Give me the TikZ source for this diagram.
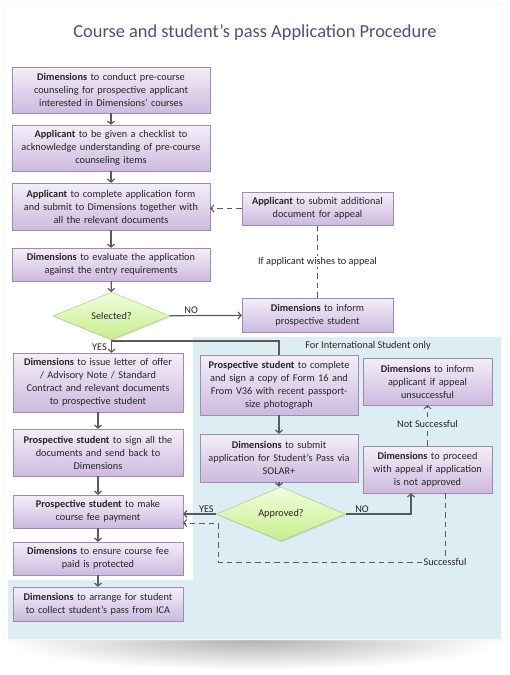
\documentclass[tikz,border=0pt]{standalone}
\usepackage{fontspec}
\setmainfont{Carlito}
\usetikzlibrary{shapes.geometric,arrows.meta,shadows}
\definecolor{boxline}{HTML}{9C8DAE}
\definecolor{boxtop}{HTML}{F4EEF9}
\definecolor{boxbot}{HTML}{CDBADF}
\definecolor{dmdline}{HTML}{A3C47A}
\definecolor{dmdtop}{HTML}{F2FDDC}
\definecolor{dmdbot}{HTML}{C6EE8C}
\definecolor{arrowgrey}{HTML}{5A5A5A}
\definecolor{intlblue}{HTML}{DCEDF3}
\definecolor{titlepurple}{HTML}{5B4A7C}

\begin{document}
\begin{tikzpicture}[x=1pt,y=-1pt,
    pbox/.style={draw=boxline, top color=boxtop, bottom color=boxbot, align=center,
      inner sep=2pt, text=black!85, font=\fontsize{10.3}{13}\selectfont,
      drop shadow={shadow xshift=1pt, shadow yshift=-1.2pt, opacity=0.25}},
    dmd/.style={diamond, draw=dmdline, top color=dmdtop, bottom color=dmdbot,
      inner sep=0pt, text=black!85, font=\fontsize{10.3}{12}\selectfont,
      drop shadow={shadow xshift=1pt, shadow yshift=-1.2pt, opacity=0.2}},
    lbl/.style={inner sep=1pt, text=black!85, font=\fontsize{10.3}{12}\selectfont},
    flow/.style={draw=arrowgrey, line width=1.2pt, -{Straight Barb[length=3pt,width=7pt]}},
    plainflow/.style={draw=arrowgrey, line width=1.2pt},
    dashflow/.style={flow, dashed, dash pattern=on 5.5pt off 4pt, line width=1pt},
    dashline/.style={plainflow, dash pattern=on 5.5pt off 4pt, line width=1pt}]

  % Card and background
  \useasboundingbox (0,0) rectangle (510,675);
  \shade[inner color=black!30, outer color=white] (253,640) ellipse (250 and 30);
  \filldraw[fill=white, draw=black!10, rounded corners=2pt] (4,4) rectangle (502,640);
  \fill[intlblue] (193,337) -- (501,337) -- (501,639) -- (8,639) -- (8,580) -- (193,580) -- cycle;

  % Title
  \node[text=titlepurple, font=\fontsize{18.4}{22}\selectfont] (title) at (255,32)
    {Course and student’s pass Application Procedure};

  % Nodes
  \node[pbox, text width=194pt, minimum height=46pt] (conduct) at (111,90)
    {\textbf{Dimensions} to conduct pre-course\\counseling for prospective applicant\\interested in Dimensions’ courses};
  \node[pbox, text width=194pt, minimum height=46pt] (checklist) at (111,148)
    {\textbf{Applicant} to be given a checklist to\\acknowledge understanding of pre-course\\counseling items};
  \node[pbox, text width=194pt, minimum height=47pt] (complete) at (111,206.5)
    {\textbf{Applicant} to complete application form\\and submit to Dimensions together with\\all the relevant documents};
  \node[pbox, text width=194pt, minimum height=33pt] (evaluate) at (111,264.5)
    {\textbf{Dimensions} to evaluate the application\\against the entry requirements};
  \node[dmd, minimum width=117pt, minimum height=42pt] (selected) at (111.5,316) {Selected?};
  \node[pbox, text width=147pt, minimum height=33pt] (additional) at (317.5,208.5)
    {\textbf{Applicant} to submit additional\\document for appeal};
  \node[pbox, text width=147pt, minimum height=34pt] (inform) at (317.5,315)
    {\textbf{Dimensions} to inform\\prospective student};

  \node[pbox, text width=166pt, minimum height=59pt] (offer) at (98,382.5)
    {\textbf{Dimensions} to issue letter of offer\\/ Advisory Note / Standard\\Contract and relevant documents\\to prospective student};
  \node[pbox, text width=166pt, minimum height=47pt] (signdocs) at (98,452.5)
    {\textbf{Prospective student} to sign all the\\documents and send back to\\Dimensions};
  \node[pbox, text width=166pt, minimum height=33pt] (payment) at (98,511.5)
    {\textbf{Prospective student} to make\\course fee payment};
  \node[pbox, text width=166pt, minimum height=33pt] (protect) at (98,558.5)
    {\textbf{Dimensions} to ensure course fee\\paid is protected};
  \node[pbox, text width=166pt, minimum height=34pt] (collect) at (98,604)
    {\textbf{Dimensions} to arrange for student\\to collect student’s pass from ICA};

  \node[lbl] (intl) at (368,346) {For International Student only};
  \node[pbox, text width=154pt, minimum height=60pt] (forms) at (279,385)
    {\textbf{Prospective student} to complete\\and sign a copy of Form 16 and\\From V36 with recent passport-\\size photograph};
  \node[pbox, text width=154pt, minimum height=48pt] (solar) at (279,458)
    {\textbf{Dimensions} to submit\\application for Student’s Pass via\\SOLAR+};
  \node[dmd, minimum width=129pt, minimum height=40pt] (approved) at (281,514) {Approved?};
  \node[pbox, text width=125pt, minimum height=47pt] (unsucc) at (427.5,381.5)
    {\textbf{Dimensions} to inform\\applicant if appeal\\unsuccessful};
  \node[pbox, text width=125pt, minimum height=47pt] (proceed) at (427.5,469.5)
    {\textbf{Dimensions} to proceed\\with appeal if application\\is not approved};
  \node[lbl] (success) at (445,562) {Successful};

  \coordinate (branch) at (111.5,341);
  \coordinate (noturn) at (411,514);
  \coordinate (sback1) at (218,562);
  \coordinate (sback2) at (218,523);

  % Edges
  \draw[flow] (conduct) -- (checklist);
  \draw[flow] (checklist) -- (complete);
  \draw[flow] (complete) -- (evaluate);
  \draw[flow] (evaluate) -- (selected);
  \draw[flow] (selected) -- node[lbl, above, pos=0.3] {NO} (inform);
  \draw[dashline] (inform) -- node[lbl, fill=white, pos=0.5] {If applicant wishes to appeal} (additional);
  \draw[dashflow] (additional.west) -- (additional.west -| complete.east);
  \draw[flow] (selected.south) -- node[lbl, anchor=east, pos=0.55, xshift=-3pt] {YES} (selected.south |- offer.north);
  \draw[plainflow] (branch) -| (forms.north);

  \draw[flow] (offer) -- (signdocs);
  \draw[flow] (signdocs) -- (payment);
  \draw[flow] (payment) -- (protect);
  \draw[flow] (protect) -- (collect);

  \draw[flow] (forms) -- (solar);
  \draw[flow] (solar.south) -- (solar.south |- approved.north);
  \draw[flow] (approved.west) -- node[lbl, above, pos=0.3] {YES} (approved.west -| payment.east);
  \draw[flow] (approved.east) -- node[lbl, above, pos=0.25] {NO} (noturn) -- (noturn |- proceed.south);
  \draw[dashflow] (proceed.north) -- node[lbl, fill=intlblue, pos=0.55] {Not Successful} (unsucc.south);
  \draw[dashline] (success.north |- proceed.south) -- (success.north);
  \draw[dashflow] (success.west) -- (sback1) -- (sback2) -- (sback2 -| payment.east);
\end{tikzpicture}
\end{document}
